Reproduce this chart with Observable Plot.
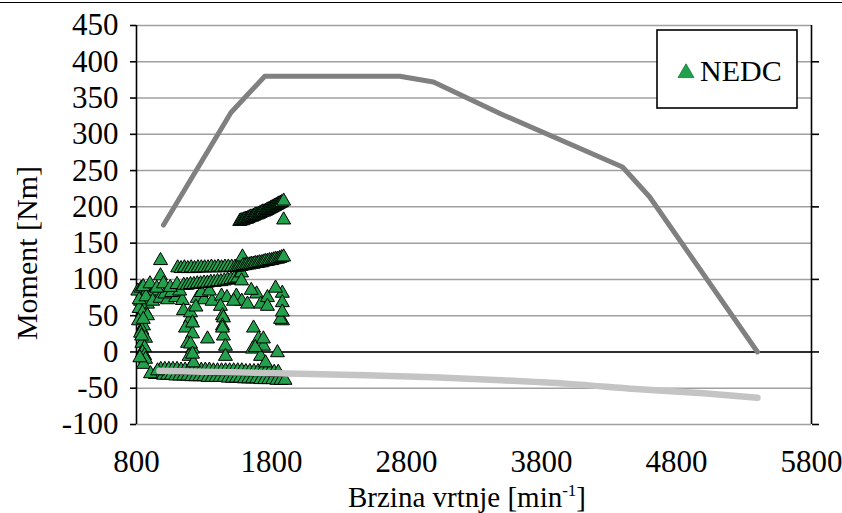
<!DOCTYPE html>
<html><head><meta charset="utf-8">
<script src="https://cdn.jsdelivr.net/npm/d3@7"></script>
<script src="https://cdn.jsdelivr.net/npm/@observablehq/plot@0.6"></script>
<style>
html,body{margin:0;padding:0;background:#fff;}
#wrap{position:relative;width:842px;height:513px;overflow:hidden;}
#topline{position:absolute;left:0;top:2px;width:842px;border-top:1.5px solid #000;z-index:2;}
</style></head><body><div id="wrap"><div id="topline"></div></div>
<script>
// Axis ticks
const xTicks = [800, 1800, 2800, 3800, 4800, 5800];
const yTicks = [-100, -50, 0, 50, 100, 150, 200, 250, 300, 350, 400, 450];
const rightTicks = [-100, 0, 100, 200, 300, 400];

// Full-load torque curve (dark grey)
const fullLoadRpm = [1000, 1500, 1750, 2750, 3000, 3500, 4400, 4600, 5400];
const fullLoadTorque = [175, 330, 380, 380, 372, 328, 255, 214, 0];

// Motoring (drag) torque curve (light grey)
const motoringRpm = [970, 1500, 2000, 2500, 3000, 3500, 4000, 4500, 5000, 5400];
const motoringTorque = [-26, -28, -30, -32, -35, -39, -44, -51, -57, -63];

// NEDC operating points [rpm, torque]
const nedcIdle = [[810,84],[835,88],[866,80],[830,70],[881,66],[820,60],[874,52],[844,54],[881,50],[815,43],[852,36],[840,30],[830,26],[867,19],[840,12],[860,6],[845,-1],[860,-5],[867,-10],[852,-17],[904,-30],[956,-26],[825,-8],[838,22],[850,45],[900,80],[930,84]];
const nedcRow90 = [[850,90],[900,94],[950,88],[978,105],[1000,94],[1050,89],[1100,93],[1150,92],[1175,92],[1200,93],[1225,93],[1250,94],[1275,94],[1300,95],[1325,95],[1350,96],[1375,96],[1400,97],[1425,97],[1450,98],[1475,99],[1500,100],[1525,101],[1550,102],[1578,109],[1578,98]];
const nedcRow75 = [[820,72],[870,76],[920,70],[975,74],[1030,72],[1090,75],[1140,71],[1250,74],[1300,72],[1360,70],[1430,77],[1470,75],[1540,77],[1580,70],[1622,66],[1690,80],[1720,66],[1770,75],[1770,63],[1880,81],[1880,68],[1519,70],
  [1010,80],[1060,82],[1120,84],[1280,82],[1340,84],[1650,85],[1830,88]];
const nedcColumns = [[1148,57],[1200,46],[1163,33],[1215,25],[1178,12],[1215,4],[1190,-6],[1222,-15],[1200,54],[1215,40],[1200,11],[1215,-3],[1240,62],[1326,18],
  [1422,63],[1437,50],[1444,47],[1437,36],[1444,22],[1459,8],[1459,-6],[1437,33],
  [1667,33],[1704,18],[1659,4],[1741,8],[1719,-6],[1756,-15],[1680,6],[1740,18],
  [1881,43],[1867,45],[1844,-1],[1880,55]];
const nedcRibbon115 = [[978,126],[1105,116],[1130,115],[1155,116],[1180,115],[1205,116],[1230,115],[1255,116],[1280,116],[1305,116],[1330,116],[1355,117],[1380,116],[1405,117],[1430,116],[1455,117],[1480,117],[1505,117],
  [1530,117],[1545,117],[1560,118],[1575,118],[1585,131],[1590,119],[1605,119],[1620,120],[1635,120],[1650,121],[1665,121],[1680,122],[1695,122],[1710,123],[1725,123],[1740,124],[1755,125],[1770,125],[1785,126],[1800,126],[1815,127],[1830,128],[1845,128],[1860,129],[1875,130],[1890,131]];
const nedcRibbon190 = [[1565,180],[1575,181],[1585,181],[1595,182],[1605,183],[1615,183],[1625,184],[1635,185],[1645,186],[1655,186],[1665,187],[1675,188],[1685,189],[1695,189],[1705,190],[1715,191],[1725,192],[1735,193],[1745,193],[1755,194],[1765,195],[1775,196],[1785,197],[1795,198],[1805,199],[1815,200],[1825,201],[1835,202],[1845,203],[1855,204],[1865,205],[1875,206],[1890,208],[1890,182]];
const nedcOverrunA = [[980,-24],[1010,-24],[1040,-24],[1070,-24],[1100,-24],[1130,-25],[1160,-25],[1190,-25],[1220,-25],[1250,-25],[1280,-25],[1310,-25],[1340,-25],[1370,-26],[1400,-26],[1430,-26],[1460,-26],[1490,-26],[1520,-26],[1550,-26],[1580,-26],[1610,-27],[1640,-27],[1670,-27],[1700,-27],[1730,-27],[1760,-27],[1790,-27],[1820,-28],[1850,-28]];
const nedcOverrunB = [[940,-31],[970,-31],[1000,-32],[1030,-32],[1060,-32],[1090,-33],[1120,-33],[1150,-33],[1180,-33],[1210,-34],[1240,-34],[1270,-34],[1300,-34],[1330,-35],[1360,-35],[1390,-35],[1420,-35],[1450,-35],[1480,-36],[1510,-36],[1540,-36],[1570,-36],[1600,-37],[1630,-37],[1660,-37],[1690,-37],[1720,-38],[1750,-38],[1780,-38],[1810,-38],[1840,-39],[1870,-39],[1900,-39]];

const nedc = [...nedcOverrunB, ...nedcOverrunA, ...nedcIdle, ...nedcRow75, ...nedcRow90, ...nedcColumns, ...nedcRibbon115, ...nedcRibbon190]
  .map(([rpm, torque]) => ({rpm, torque}));
const fullLoad = fullLoadRpm.map((r, i) => ({rpm: r, torque: fullLoadTorque[i]}));
const motoring = motoringRpm.map((r, i) => ({rpm: r, torque: motoringTorque[i]}));

const green = "#22a04b";
const font = "Liberation Serif";

const chart = Plot.plot({
  width: 842,
  height: 513,
  marginLeft: 136,
  marginRight: 31,
  marginTop: 25,
  marginBottom: 89,
  style: "font-family: 'Liberation Serif', serif; font-size: 30px; color: #000; background: #fff; overflow: visible;",
  x: {domain: [800, 5800], label: null},
  y: {domain: [-100, 450], label: null},
  marks: [
    Plot.gridY(yTicks, {stroke: "#a0a0a0", strokeOpacity: 1, strokeWidth: 1.5}),
    Plot.ruleY([0], {stroke: "#000", strokeWidth: 1.6}),
    Plot.ruleX([800], {stroke: "#000", strokeWidth: 1.6}),
    Plot.ruleX([5800], {stroke: "#000", strokeWidth: 1.6}),
    Plot.axisY({ticks: yTicks, tickSize: 6, tickPadding: 12, fontSize: 31, fontFamily: font, tickFormat: d => String(d), label: null, strokeWidth: 1.6}),
    Plot.axisY({anchor: "right", ticks: rightTicks, tickSize: 7, tickFormat: () => "", label: null, strokeWidth: 1.6}),
    Plot.axisX({ticks: xTicks, tickSize: 0, tickPadding: 25, fontSize: 31, fontFamily: font, tickFormat: d => String(d), label: null}),
    Plot.dot(nedc, {x: "rpm", y: "torque", symbol: "triangle", r: 5.2, fill: green, fillOpacity: 1, stroke: "#000", strokeWidth: 1}),
    Plot.line(motoring, {x: "rpm", y: "torque", stroke: "#c4c4c4", strokeWidth: 6.5, strokeLinecap: "round", curve: "catmull-rom"}),
    Plot.line(fullLoad, {x: "rpm", y: "torque", stroke: "#808080", strokeWidth: 5, strokeLinecap: "round", strokeLinejoin: "round"})
  ]
});
document.getElementById("wrap").appendChild(chart);

const svg = d3.select(chart);
svg.attr("font-family", font);
// Axis titles
const xt = svg.append("text").attr("x", 467).attr("y", 507).attr("text-anchor", "middle")
  .attr("font-size", 29).attr("fill", "#000");
xt.append("tspan").text("Brzina vrtnje [min");
xt.append("tspan").attr("font-size", 17).attr("dy", -11).text("-1");
xt.append("tspan").attr("dy", 11).text("]");
svg.append("text").attr("transform", "translate(37,253) rotate(-90)").attr("text-anchor", "middle")
  .attr("font-size", 30).attr("fill", "#000").text("Moment [Nm]");
// Legend
const lg = svg.append("g");
lg.append("rect").attr("x", 657).attr("y", 30).attr("width", 140).attr("height", 78)
  .attr("fill", "#fff").attr("stroke", "#000").attr("stroke-width", 1.6);
lg.append("path").attr("d", d3.symbol(d3.symbolTriangle, 110)()).attr("transform", "translate(686,73)")
  .attr("fill", green).attr("stroke", "#127a35").attr("stroke-width", 0.8);
lg.append("text").attr("x", 700).attr("y", 81).attr("text-anchor", "start").attr("font-size", 30)
  .attr("fill", "#000").text("NEDC");
svg.selectAll("text").attr("font-family", font).style("font-family", "'Liberation Serif', serif");
</script>
</body></html>
